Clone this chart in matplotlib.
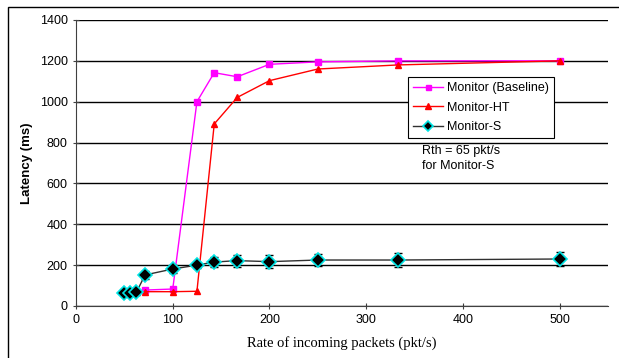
import matplotlib.pyplot as plt
from matplotlib.patches import Rectangle

# rates (pkt/s) = 1000 / interval
rate = [50, 55.6, 62.5, 71.4, 100, 125, 142.9, 166.7, 200, 250, 333.3, 500]
lat_baseline = [70, 70, 72, 78, 83, 1000, 1142, 1122, 1183, 1195, 1200, 1200]
lat_ht = [65, 66, 68, 70, 70, 72, 891, 1021, 1103, 1160, 1180, 1200]
lat_s = [64, 65, 68, 152, 181, 200, 215, 222, 217, 225, 225, 230]
err_s = [10, 10, 12, 20, 20, 15, 25, 30, 32, 30, 32, 35]

plt.rcParams['font.family'] = ['Liberation Sans', 'DejaVu Sans']
plt.rcParams['font.size'] = 9

fig = plt.figure(figsize=(6.19, 3.58), dpi=100)
ax = fig.add_axes([0.1228, 0.1453, 0.8595, 0.7989])

ax.plot(rate, lat_baseline, color='#FF00FF', lw=1, marker='s', ms=4.5,
        mec='#FF00FF', mfc='#FF00FF', label='Monitor (Baseline)', zorder=3)
ax.plot(rate, lat_ht, color='#FF0000', lw=1, marker='^', ms=5,
        mec='#FF0000', mfc='#FF0000', label='Monitor-HT', zorder=3)
ax.errorbar(rate, lat_s, yerr=err_s, fmt='none', ecolor='black', elinewidth=1,
            capsize=3, capthick=1, zorder=4)
ax.plot(rate, lat_s, color='#303030', lw=1, marker='D', ms=7,
        mfc='black', mec='#00E5E5', mew=1.2, label='Monitor-S', zorder=5)

ax.set_xlim(0, 550)
ax.set_ylim(0, 1400)
ax.set_xticks(range(0, 600, 100))
ax.set_yticks(range(0, 1600, 200))
ax.yaxis.grid(True, color='black', lw=1)
ax.set_axisbelow(True)
for s in ['top', 'right']:
    ax.spines[s].set_visible(False)
ax.spines['left'].set_color('#404040')
ax.spines['bottom'].set_color('#404040')
ax.tick_params(direction='inout', length=5, width=0.8, color='#404040', labelsize=9)

ax.set_ylabel('Latency (ms)', fontsize=9.5, fontweight='bold', labelpad=5)
ax.set_xlabel('Rate of incoming packets (pkt/s)', fontsize=10.5,
              family=['Liberation Serif'], labelpad=7)

leg = ax.legend(loc='upper left', bbox_to_anchor=(0.624, 0.80), borderaxespad=0,
                fancybox=False, framealpha=1, edgecolor='black', fontsize=9,
                handlelength=2.4, handletextpad=0.3, borderpad=0.4,
                labelspacing=0.6, markerscale=0.8)
leg.get_frame().set_linewidth(0.8)

ax.text(358, 790, 'Rth = 65 pkt/s\nfor Monitor-S', fontsize=9, va='top',
        ha='left', linespacing=1.4)

fig.patches.append(Rectangle((8 / 619, -0.1), 1.5, 1 - 7 / 358 + 0.1,
                             transform=fig.transFigure, fill=False,
                             edgecolor='black', lw=1))

fig.savefig('out.png', dpi=100)
